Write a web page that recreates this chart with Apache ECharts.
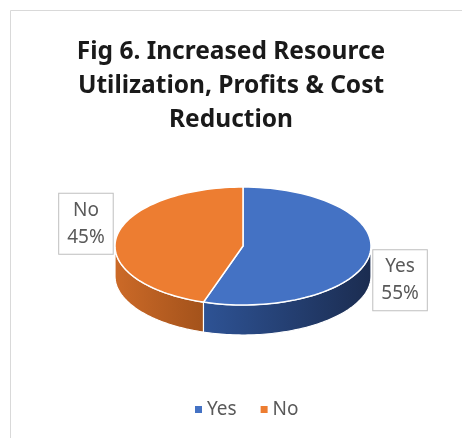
<!DOCTYPE html>
<html>
<head>
<meta charset="utf-8">
<script src="https://cdn.jsdelivr.net/npm/echarts@6/dist/echarts.min.js"></script>
<style>
html,body{margin:0;padding:0;background:#fff;}
#chart{width:462px;height:438px;}
</style>
</head>
<body>
<div id="chart"></div>
<script>
const titleLines = ['Fig 6. Increased Resource', 'Utilization, Profits & Cost', 'Reduction'];
const categories = ['Yes', 'No'];
const values = [55, 45];

const topColors = ['#4472C4', '#ED7D31'];
const sideColors = [['#2E5395', '#1B2C50'], ['#CC6A28', '#A3521B']];
const geo = { cx: 243, cy: 246, rx: 128, ry: 59, depth: 30 };
const total = values.reduce((a, b) => a + b, 0);

function pt(t, dy) {
  return [geo.cx + geo.rx * Math.sin(t), geo.cy - geo.ry * Math.cos(t) + (dy || 0)];
}

function makeRender(i) {
  return function (params, api) {
    const v = api.value(0);
    let start = 0;
    for (let k = 0; k < i; k++) start += values[k];
    const a = start / total * Math.PI * 2;
    const b = (start + v) / total * Math.PI * 2;
    const children = [];
    const N = 80;
    const sa = Math.max(a, Math.PI / 2), sb = Math.min(b, Math.PI * 1.5);
    if (sb > sa) {
      const pts = [];
      for (let j = 0; j <= N; j++) pts.push(pt(sa + (sb - sa) * j / N));
      for (let j = N; j >= 0; j--) pts.push(pt(sa + (sb - sa) * j / N, geo.depth));
      children.push({
        type: 'polygon',
        shape: { points: pts },
        style: {
          fill: new echarts.graphic.LinearGradient(0, 0, 1, 0, [
            { offset: 0, color: sideColors[i][0] },
            { offset: 1, color: sideColors[i][1] }
          ]),
          stroke: '#ffffff', lineWidth: 1.2
        }
      });
    }
    const tp = [[geo.cx, geo.cy]];
    for (let j = 0; j <= N; j++) tp.push(pt(a + (b - a) * j / N));
    children.push({
      type: 'polygon',
      shape: { points: tp },
      style: { fill: topColors[i], stroke: '#ffffff', lineWidth: 1.5 }
    });
    const mid = (a + b) / 2;
    const lx = geo.cx + (geo.rx + 31) * Math.sin(mid);
    const ly = geo.cy + 6 - 180 * Math.cos(mid);
    children.push({
      type: 'text',
      z2: 100,
      style: {
        text: categories[i] + '\n' + Math.round(v / total * 100) + '%',
        x: lx, y: ly,
        align: 'center', verticalAlign: 'middle',
        fill: '#595959',
        font: '19px "Noto Sans"',
        lineHeight: 27,
        backgroundColor: '#ffffff',
        borderColor: '#bfbfbf', borderWidth: 1,
        padding: [3, 8, 3, 8]
      }
    });
    return { type: 'group', children: children };
  };
}

const chart = echarts.init(document.getElementById('chart'), null, { renderer: 'canvas' });
chart.setOption({
  animation: false,
  backgroundColor: '#ffffff',
  title: {
    text: titleLines.join('\n'),
    left: 'center', top: 30,
    textStyle: { fontFamily: 'Noto Sans', fontWeight: 'bold', fontSize: 24.5, lineHeight: 34, color: '#1a1a1a' }
  },
  legend: {
    data: categories,
    bottom: 14,
    left: 190,
    icon: 'rect',
    itemWidth: 7, itemHeight: 7, itemGap: 24,
    textStyle: { fontFamily: 'Noto Sans', fontSize: 19, color: '#595959' }
  },
  graphic: [{
    type: 'polyline',
    shape: { points: [[10.5, 438], [10.5, 10.5], [462, 10.5]] },
    style: { stroke: '#d9d9d9', lineWidth: 1, fill: null }
  }],
  color: topColors,
  series: categories.map((c, i) => ({
    type: 'custom',
    name: c,
    coordinateSystem: 'none',
    renderItem: makeRender(i),
    data: [[values[i]]]
  }))
});
</script>
</body>
</html>
